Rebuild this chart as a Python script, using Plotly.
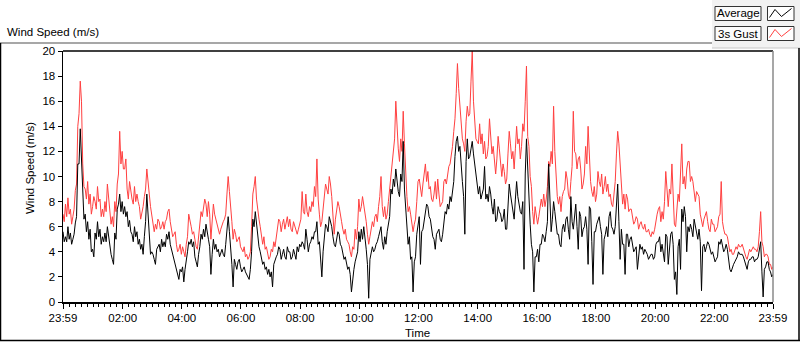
import pandas as pd
import plotly.graph_objects as go

# Readings every 5 min starting 23:59 (avg_a/gust_a) and the readings
# 2.5 min later (avg_b/gust_b), all read off the picture.
avg_a = [
    5.6, 5.2, 6.0, 5.5, 5.0, 6.3, 11.0, 13.8, 8.1, 7.0,
    6.4, 5.8, 4.2, 5.5, 6.4, 5.8, 5.2, 5.5, 6.0, 4.6,
    3.4, 5.5, 7.4, 8.6, 8.0, 7.6, 7.2, 6.5, 5.4, 6.0,
    5.6, 5.0, 4.6, 5.2, 8.6, 5.6, 4.0, 3.4, 4.2, 4.6,
    5.0, 4.8, 5.4, 5.6, 4.2, 3.4, 2.8, 1.8, 2.4, 1.6,
    3.2, 4.8, 5.0, 4.8, 3.2, 3.8, 5.4, 5.8, 6.2, 5.0,
    2.2, 5.0, 4.6, 4.2, 4.0, 3.8, 4.6, 6.8, 4.4, 1.2,
    3.0, 3.2, 2.8, 2.6, 2.4, 2.0, 2.6, 6.6, 7.2, 5.0,
    4.0, 3.0, 2.6, 2.2, 2.0, 1.2, 3.4, 3.8, 4.2, 3.8,
    3.6, 4.4, 4.0, 3.6, 3.8, 4.4, 4.6, 4.8, 4.2,
    5.0, 4.6, 5.2, 5.6, 6.4, 4.8, 2.0, 5.2, 6.0, 6.8,
    6.0, 4.6, 5.0, 5.4, 4.4, 3.4, 3.0, 2.8, 0.8, 2.6,
    3.6, 5.6, 5.8, 6.0, 4.2, 0.3, 3.8, 4.0, 4.6, 5.2,
    6.0, 4.2, 4.6, 6.2, 9.0, 9.8, 10.6, 8.8, 10.2, 12.8,
    7.4, 4.6, 3.4, 0.8, 3.6, 6.2,
    3.0, 5.8, 7.2, 7.6, 6.6, 5.2, 4.2, 5.6, 5.0, 5.4,
    7.2, 7.8, 8.4, 8.8, 11.6, 13.2, 12.4, 9.6, 5.4, 13.0,
    11.6, 12.8, 11.0, 9.0, 9.2, 8.6, 10.8, 8.6, 9.2, 7.6,
    8.2, 6.6, 7.2, 6.4, 7.4, 5.8, 9.4, 8.0, 6.6, 9.6,
    7.6, 7.0, 2.6, 13.0, 8.4, 4.6, 0.8, 3.6, 3.2, 4.6, 5.2,
    5.6, 11.0, 5.6, 8.0, 6.4, 5.4, 4.4, 6.2, 6.6, 5.8,
    8.4, 5.8, 7.8, 4.2, 6.8, 5.8, 6.8, 3.0, 7.4, 1.4,
    5.6, 6.6, 6.0, 2.2, 5.4, 5.2, 7.2, 5.8, 6.0, 9.4,
    3.4, 4.6, 2.2, 5.4, 5.0, 4.6, 4.2, 2.6, 4.6, 4.4,
    4.2, 3.8, 3.6, 3.8, 3.6, 4.8, 5.2, 4.6, 3.2,
    5.2, 4.0, 5.6, 1.8, 0.6, 5.0, 7.4, 7.6, 4.0, 5.6,
    5.8, 6.6, 5.6, 5.8, 0.9, 4.6, 4.4, 4.6, 3.8, 3.6,
    3.4, 4.8, 5.0, 4.0, 4.6, 3.4, 2.4, 3.0, 3.4, 4.0,
    3.8, 3.6, 3.0, 3.2, 3.4, 3.6, 3.4, 3.6, 4.8, 0.4,
    2.8, 3.2, 2.4, 2.2,
]
avg_b = [
    4.8, 4.8, 5.0, 4.6, 5.4, 6.8, 11.0, 11.2, 6.6, 5.6,
    5.0, 4.0, 3.6, 5.0, 5.2, 4.6, 4.8, 4.8, 5.2, 3.8,
    3.0, 5.0, 7.8, 7.2, 7.0, 6.8, 6.0, 5.6, 4.8, 5.2,
    4.6, 4.2, 3.8, 6.4, 6.8, 3.8, 3.8, 3.0, 4.4, 4.0,
    4.4, 4.4, 5.0, 4.6, 3.8, 3.0, 2.2, 2.6, 2.8, 2.6,
    4.0, 4.6, 4.4, 3.6, 2.8, 4.4, 5.0, 5.2, 5.4, 4.4,
    3.8, 4.2, 4.0, 3.6, 4.2, 3.6, 5.8, 5.6, 3.0, 3.4,
    2.6, 3.4, 2.4, 2.8, 2.2, 1.8, 4.0, 6.0, 6.2, 4.4,
    3.4, 3.2, 2.8, 2.6, 2.4, 3.0, 3.6, 4.4, 3.4, 4.2,
    3.4, 4.0, 3.4, 4.2, 3.4, 4.0, 4.4, 4.6, 5.8, 4.0,
    4.8, 5.0, 5.6, 4.6, 3.4, 4.0, 6.2, 5.6, 6.4, 5.2,
    4.4, 5.6, 4.6, 3.8, 3.6, 2.6, 2.2, 2.0, 3.2, 4.0,
    4.8, 5.0, 5.2, 3.0, 3.4, 4.4, 4.2, 4.8, 5.6, 4.8,
    5.2, 5.6, 6.8, 8.6, 9.2, 9.6, 8.4, 9.6, 9.0, 6.0,
    5.2, 3.6, 3.2, 5.4, 6.8, 5.6, 6.6, 7.8, 6.8, 5.6,
    5.0, 5.4, 5.8, 4.8, 6.6, 7.0, 7.4, 8.0, 9.6, 12.8,
    12.0, 10.6, 8.4, 11.2, 11.4, 12.2, 11.8, 9.8, 8.6, 8.2,
    9.0, 8.2, 8.0, 8.6, 7.0, 6.4, 7.6, 7.0, 6.6, 5.8,
    7.6, 8.6, 7.2, 8.2, 8.4, 7.2, 8.0, 10.2, 10.4, 6.2,
    4.0, 3.6, 4.2, 4.6, 5.4, 4.8, 6.4, 7.2, 6.6, 7.2,
    5.4, 4.6, 5.8, 5.6, 6.8, 5.0, 6.4, 7.2, 6.0, 7.2,
    5.2, 6.0, 5.8, 7.6, 4.8, 5.6, 6.2, 6.8, 5.4, 5.0,
    6.0, 6.8, 6.0, 5.4, 7.6, 6.4, 5.8, 4.6, 5.4, 4.4,
    5.2, 4.0, 4.4, 4.0, 4.2, 3.8, 4.0, 3.4, 3.8, 3.4,
    4.6, 4.8, 4.0, 3.6, 5.4, 3.0, 5.4, 4.6, 2.4, 4.4,
    2.6, 6.4, 6.8, 6.0, 6.2, 5.2, 6.0, 5.0, 4.8, 4.4,
    4.0, 4.8, 4.2, 4.0, 3.2, 3.6, 4.6, 4.4, 4.2, 4.2,
    2.6, 2.8, 3.2, 3.6, 3.8, 3.8, 3.2, 2.6, 3.4, 3.6,
    3.2, 3.4, 4.4, 2.4, 2.6, 3.2, 2.6, 2.0,
]

gust_a = [
    7.0, 7.8, 8.3, 7.4, 6.8, 8.9, 14.0, 17.6, 11.0, 9.0,
    9.6, 8.6, 7.6, 8.0, 9.2, 8.2, 7.4, 8.0, 9.4, 7.2,
    6.8, 8.0, 9.4, 13.6, 12.0, 10.6, 9.0, 9.6, 8.2, 9.2,
    8.6, 7.6, 7.0, 8.4, 10.6, 8.6, 6.8, 5.6, 5.8, 6.4,
    6.0, 5.8, 6.6, 7.4, 5.8, 5.4, 4.6, 4.2, 3.8, 4.0,
    4.6, 7.0, 6.0, 5.6, 4.4, 5.4, 7.2, 7.6, 7.8, 8.0,
    5.0, 7.8, 6.6, 6.0, 5.8, 6.4, 7.0, 10.0, 7.8, 5.0,
    5.4, 5.0, 4.4, 4.0, 3.6, 3.4, 4.0, 8.6, 10.0, 7.2,
    6.0, 4.6, 4.2, 3.8, 3.6, 4.0, 4.4, 6.0, 6.4, 6.2,
    5.8, 6.8, 6.6, 5.6, 6.0, 5.4, 6.2, 8.8, 7.0,
    7.2, 7.6, 8.0, 9.2, 11.4, 7.0, 6.4, 8.6, 9.0, 10.0,
    8.4, 5.4, 7.4, 7.6, 6.4, 5.4, 5.0, 4.6, 3.6, 4.2,
    5.0, 8.2, 7.6, 7.8, 6.4, 4.6, 5.8, 6.0, 7.0, 7.6,
    10.0, 6.8, 6.6, 8.0, 10.6, 12.4, 16.0, 12.2, 13.0, 15.2,
    9.6, 7.2, 7.0, 5.6, 6.6, 9.6,
    9.2, 9.4, 11.0, 10.4, 9.2, 8.0, 9.6, 9.8, 7.6, 8.0,
    9.8, 10.4, 11.0, 12.4, 14.6, 19.0, 15.6, 13.0, 12.0, 15.6,
    15.0, 20.0, 14.4, 12.8, 14.2, 13.4, 12.8, 11.6, 14.6, 11.8,
    11.0, 11.4, 12.2, 10.0, 10.4, 9.8, 13.6, 11.4, 10.6, 14.0,
    13.0, 12.4, 13.6, 18.8, 12.4, 9.2, 6.2, 6.6, 6.8, 8.2, 8.6,
    8.2, 11.2, 12.0, 15.6, 9.6, 7.8, 7.2, 8.8, 10.4, 8.6,
    9.6, 15.2, 11.8, 11.4, 10.6, 9.4, 12.4, 14.0, 9.6, 8.4,
    8.0, 10.4, 9.2, 8.6, 10.0, 9.4, 8.6, 7.6, 9.6, 13.6,
    10.6, 7.8, 7.4, 8.2, 7.4, 6.8, 6.4, 6.6, 6.2, 6.0,
    6.2, 5.6, 5.4, 5.6, 5.8, 7.0, 7.6, 7.2, 8.0,
    8.8, 9.0, 11.0, 6.2, 7.8, 8.0, 12.6, 10.0, 10.6, 11.2,
    10.0, 8.6, 8.8, 8.4, 6.6, 6.6, 7.2, 5.8, 6.6, 6.2,
    5.8, 6.8, 9.6, 5.8, 5.4, 4.6, 4.2, 3.8, 4.4, 4.6,
    4.4, 4.2, 3.6, 3.8, 4.0, 4.4, 4.2, 4.4, 7.2, 4.4,
    3.8, 3.6, 3.0, 2.8,
]
gust_b = [
    6.4, 6.8, 7.0, 6.2, 7.4, 9.4, 15.0, 16.0, 9.2, 8.2,
    7.8, 7.0, 8.4, 7.4, 8.0, 6.8, 6.8, 7.2, 8.4, 6.2,
    6.0, 7.2, 10.2, 11.0, 10.6, 11.4, 8.2, 8.8, 7.8, 8.0,
    8.0, 6.6, 7.6, 9.0, 9.2, 7.6, 6.4, 6.2, 6.6, 5.8,
    6.4, 6.4, 7.2, 6.4, 5.2, 5.6, 4.0, 4.6, 4.4, 3.6,
    5.2, 6.6, 5.4, 5.0, 4.2, 6.4, 6.8, 8.2, 6.8, 7.0,
    6.4, 7.0, 6.2, 5.4, 6.2, 6.6, 8.6, 8.8, 6.4, 5.8,
    4.8, 5.2, 4.2, 4.4, 3.8, 3.6, 6.0, 9.2, 8.2, 6.6,
    5.0, 5.2, 4.4, 3.4, 4.2, 4.8, 5.2, 6.6, 5.6, 6.6,
    6.2, 6.0, 5.8, 6.4, 5.6, 5.8, 6.6, 7.2, 8.6, 6.8,
    7.2, 7.6, 8.4, 8.2, 6.0, 7.4, 9.4, 8.6, 9.4, 7.2,
    6.6, 8.0, 6.8, 5.8, 5.8, 4.8, 4.0, 4.4, 5.8, 6.0,
    7.2, 8.4, 7.0, 5.4, 5.2, 6.4, 6.8, 6.4, 8.4, 7.6,
    7.6, 7.0, 9.0, 11.2, 13.0, 13.4, 11.2, 12.0, 12.6, 8.4,
    7.6, 6.0, 6.2, 8.0, 9.8, 8.4, 10.4, 9.6, 9.0, 8.2,
    8.6, 8.2, 8.6, 7.8, 9.6, 9.4, 10.8, 11.6, 13.6, 16.6,
    17.0, 14.4, 12.6, 14.4, 14.8, 17.6, 16.0, 13.0, 12.6, 12.6,
    11.8, 11.4, 12.4, 13.0, 12.4, 10.2, 13.2, 11.0, 11.0, 9.4,
    11.8, 12.6, 12.0, 12.2, 12.6, 11.4, 14.2, 16.0, 13.2, 10.0,
    7.2, 7.6, 6.2, 7.6, 7.6, 7.6, 9.2, 10.8, 11.0, 12.0,
    8.4, 8.4, 8.4, 9.0, 9.8, 8.2, 10.8, 12.0, 10.6, 11.6,
    9.0, 10.2, 11.0, 11.6, 8.8, 9.2, 8.6, 9.6, 10.2, 9.2,
    8.8, 8.4, 7.8, 8.6, 11.8, 12.6, 9.4, 8.6, 8.6, 7.2,
    7.4, 6.2, 6.8, 5.8, 6.4, 5.8, 5.6, 5.8, 5.2, 5.4,
    6.6, 7.4, 6.4, 6.6, 10.4, 7.6, 8.6, 8.0, 6.0, 8.6,
    10.0, 9.4, 9.0, 11.2, 9.6, 9.6, 8.0, 8.6, 7.0, 6.0,
    7.0, 6.4, 5.6, 6.2, 5.6, 6.0, 7.0, 6.4, 5.4, 5.2,
    4.0, 3.8, 4.2, 4.2, 4.4, 4.6, 4.0, 3.4, 4.2, 4.2,
    4.2, 4.0, 5.6, 4.8, 3.6, 3.8, 3.0, 2.6,
]

tick_times = ["2021-01-01 23:59", "2021-01-02 02:00", "2021-01-02 04:00",
              "2021-01-02 06:00", "2021-01-02 08:00", "2021-01-02 10:00",
              "2021-01-02 12:00", "2021-01-02 14:00", "2021-01-02 16:00",
              "2021-01-02 18:00", "2021-01-02 20:00", "2021-01-02 22:00",
              "2021-01-02 23:59"]
tick_labels = ["23:59", "02:00", "04:00", "06:00", "08:00", "10:00", "12:00",
               "14:00", "16:00", "18:00", "20:00", "22:00", "23:59"]
y_ticks = [0, 2, 4, 6, 8, 10, 12, 14, 16, 18, 20]


def interleave(a, b):
    out = []
    for k in range(len(a)):
        out.append(a[k])
        if k < len(b):
            out.append(b[k])
    return out


avg_speed = interleave(avg_a, avg_b)
gust_speed = interleave(gust_a, gust_b)
n = min(len(avg_speed), len(gust_speed))
times = pd.date_range("2021-01-01 23:59", periods=n, freq="150s")

W, H = 800, 342
L, R, T, B = 63, 773, 51, 302


def px(x):
    return (x - L) / (R - L)


def py(y):
    return (B - y) / (B - T)


FONT = "Liberation Sans"
FS = 11.5

fig = go.Figure()
fig.add_trace(go.Scatter(x=times, y=gust_speed[:n], mode="lines", name="3s Gust",
                         line=dict(color="#ff4040", width=1)))
fig.add_trace(go.Scatter(x=times, y=avg_speed[:n], mode="lines", name="Average",
                         line=dict(color="#000000", width=1)))

shapes = []
shapes.append(dict(type="rect", xref="paper", yref="paper", x0=px(712), x1=px(800),
                   y0=py(48), y1=py(0), fillcolor="#f2f2f2", line=dict(width=0), layer="below"))
shapes.append(dict(type="line", xref="paper", yref="paper", x0=px(0), x1=px(712),
                   y0=py(43), y1=py(43), line=dict(color="#8a8a8a", width=1.5)))
shapes.append(dict(type="line", xref="paper", yref="paper", x0=px(712), x1=px(800),
                   y0=py(48), y1=py(48), line=dict(color="#c8c8c8", width=1)))
shapes.append(dict(type="line", xref="paper", yref="paper", x0=px(0.5), x1=px(0.5),
                   y0=py(43), y1=py(340.5), line=dict(color="#000000", width=1.5)))
shapes.append(dict(type="line", xref="paper", yref="paper", x0=px(0), x1=px(800),
                   y0=py(340.5), y1=py(340.5), line=dict(color="#000000", width=1.5)))
shapes.append(dict(type="line", xref="paper", yref="paper", x0=px(799), x1=px(799),
                   y0=py(48), y1=py(341), line=dict(color="#000000", width=1.5)))
shapes.append(dict(type="line", xref="paper", yref="paper", x0=0, x1=1, y0=1, y1=1,
                   line=dict(color="#000000", width=1.5)))
shapes.append(dict(type="line", xref="paper", yref="paper", x0=1, x1=1, y0=0, y1=1,
                   line=dict(color="#8a8a8a", width=1.5)))

for (ytop, col) in [(6.5, "#000000"), (26.5, "#ff4040")]:
    shapes.append(dict(type="rect", xref="paper", yref="paper", x0=px(715), x1=px(761),
                       y0=py(ytop + 14), y1=py(ytop), fillcolor="#fbfbfb",
                       line=dict(color="#333333", width=1)))
    shapes.append(dict(type="rect", xref="paper", yref="paper", x0=px(767.5), x1=px(794),
                       y0=py(ytop + 14), y1=py(ytop), fillcolor="#ffffff",
                       line=dict(color="#333333", width=1)))
    pts = [(769.5, ytop + 11), (775, ytop + 3), (781.5, ytop + 10), (791.5, ytop + 2)]
    path = "M " + " L ".join(f"{px(a):.5f},{py(b):.5f}" for a, b in pts)
    shapes.append(dict(type="path", xref="paper", yref="paper", path=path,
                       line=dict(color=col, width=1)))

annotations = [
    dict(text="Wind Speed (m/s)", xref="paper", yref="paper", x=px(5), y=py(32),
         xanchor="left", yanchor="middle", showarrow=False,
         font=dict(family=FONT, size=FS, color="#000000")),
    dict(text="Wind Speed (m/s)", xref="paper", yref="paper", x=px(30), y=py(168),
         xanchor="center", yanchor="middle", showarrow=False, textangle=-90,
         font=dict(family=FONT, size=FS, color="#000000")),
    dict(text="Time", xref="paper", yref="paper", x=px(417), y=py(333),
         xanchor="center", yanchor="middle", showarrow=False,
         font=dict(family=FONT, size=FS, color="#000000")),
    dict(text="Average", xref="paper", yref="paper", x=px(738), y=py(13.5),
         xanchor="center", yanchor="middle", showarrow=False,
         font=dict(family=FONT, size=FS, color="#000000")),
    dict(text="3s Gust", xref="paper", yref="paper", x=px(738), y=py(33.5),
         xanchor="center", yanchor="middle", showarrow=False,
         font=dict(family=FONT, size=FS, color="#000000")),
]

fig.update_layout(
    width=W, height=H,
    margin=dict(l=L, r=W - R, t=T, b=H - B, pad=0),
    paper_bgcolor="#ffffff", plot_bgcolor="#ffffff",
    showlegend=False, hovermode=False,
    shapes=shapes, annotations=annotations,
    font=dict(family=FONT, size=FS, color="#000000"),
)
fig.update_xaxes(
    type="date", range=[times[0], times[-1]],
    tickmode="array", tickvals=tick_times, ticktext=tick_labels,
    ticks="outside", ticklen=5, tickcolor="#000000", tickwidth=1,
    showgrid=False, zeroline=False,
    showline=True, linecolor="#000000", linewidth=1.5,
    minor=dict(tickmode="linear", tick0="2021-01-02 00:00", dtick=12 * 60 * 1000,
               ticks="outside", ticklen=3, tickcolor="#000000", showgrid=False),
    tickfont=dict(family=FONT, size=FS, color="#000000"),
)
fig.update_yaxes(
    range=[0, 20], tickmode="array", tickvals=y_ticks,
    ticks="outside", ticklen=4, tickcolor="#000000", tickwidth=1,
    showgrid=False, zeroline=False,
    showline=True, linecolor="#000000", linewidth=1.5,
    tickfont=dict(family=FONT, size=FS, color="#000000"),
)

fig.write_html("out.html", config={"displayModeBar": False, "staticPlot": True},
               post_script="document.body.style.margin='0';document.body.style.overflow='hidden';")
